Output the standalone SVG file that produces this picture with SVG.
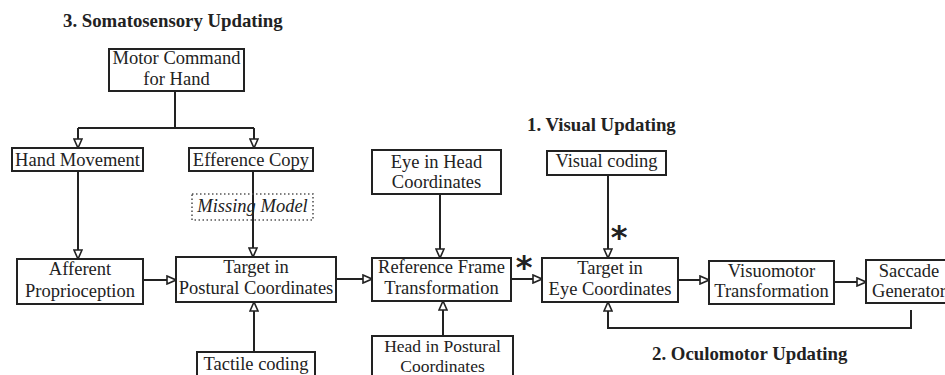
<svg xmlns="http://www.w3.org/2000/svg" width="945" height="375" viewBox="0 0 945 375">
<defs>
<marker id="tri" viewBox="0 0 10 10" refX="10" refY="5" markerWidth="10" markerHeight="10" markerUnits="userSpaceOnUse" orient="auto">
<path d="M1,1 L10,5 L1,9 z" fill="#fff" stroke="#222" stroke-width="1.6"/>
</marker>
<style>
.box{fill:#fff;stroke:#222;stroke-width:2}
.dot{fill:none;stroke:#555;stroke-width:1.6;stroke-dasharray:1.5 2.5}
.t{font-family:"Liberation Serif","Times New Roman",serif;font-size:18.5px;fill:#222;text-anchor:middle}
.s{font-size:17.5px}
.i{font-style:italic}
.h{font-family:"Liberation Serif","Times New Roman",serif;font-size:18.8px;font-weight:bold;fill:#222}
.c{fill:none;stroke:#222;stroke-width:2}
.a{marker-end:url(#tri)}
.star{font-family:"DejaVu Sans",sans-serif;font-size:32px;font-weight:bold;fill:#222;text-anchor:middle}
</style>
</defs>
<rect width="945" height="375" fill="#fff"/>
<text class="h" x="63" y="27">3. Somatosensory Updating</text>
<text class="h" x="527" y="131">1. Visual Updating</text>
<text class="h" x="652" y="360">2. Oculomotor Updating</text>
<g id="connectors">
<path class="c" d="M175,91 V128 M78,128 H254"/>
<path class="c a" d="M78,128 V148"/>
<path class="c a" d="M254,128 V148"/>
<path class="c a" d="M78,171 V259"/>
<path class="c a" d="M253,171 V257"/>
<path class="c a" d="M143,280 H176"/>
<path class="c a" d="M254,352 V302"/>
<path class="c a" d="M336,279 H372"/>
<path class="c a" d="M440,194 V258"/>
<path class="c a" d="M443,336 V301"/>
<path class="c a" d="M511,279 H542"/>
<path class="c a" d="M608,175 V258"/>
<path class="c a" d="M678,280 H709"/>
<path class="c a" d="M834,282 H866"/>
<path class="c a" d="M911,310 V328 H608 V302"/>
</g>
<g id="motor"><rect class="box" x="109" y="49" width="135" height="42"/><text class="t" x="176.5" y="64">Motor Command</text><text class="t" x="176.5" y="85">for Hand</text></g>
<g id="hand"><rect class="box" x="12" y="148" width="131" height="23"/><text class="t" x="77.5" y="166">Hand Movement</text></g>
<g id="efference"><rect class="box" x="189" y="148" width="124" height="23"/><text class="t" x="251" y="166">Efference Copy</text></g>
<g id="missing"><rect class="dot" x="192" y="194" width="121" height="26"/><text class="t i" x="252.5" y="212">Missing Model</text></g>
<g id="afferent"><rect class="box" x="17" y="259" width="126" height="45"/><text class="t" x="80" y="275">Afferent</text><text class="t" x="80" y="297">Proprioception</text></g>
<g id="targetPostural"><rect class="box" x="176" y="257" width="160" height="45"/><text class="t" x="256" y="273">Target in</text><text class="t" x="256" y="294">Postural Coordinates</text></g>
<g id="tactile"><rect class="box" x="197" y="352" width="118" height="26"/><text class="t" x="256" y="370">Tactile coding</text></g>
<g id="eyeHead"><rect class="box" x="372" y="150" width="129" height="44"/><text class="t" x="436.5" y="168">Eye in Head</text><text class="t" x="436.5" y="188">Coordinates</text></g>
<g id="refFrame"><rect class="box" x="372" y="258" width="139" height="43"/><text class="t" x="441.5" y="273">Reference Frame</text><text class="t" x="441.5" y="294">Transformation</text></g>
<g id="headPostural"><rect class="box" x="372" y="336" width="141" height="42"/><text class="t s" x="442.5" y="352">Head in Postural</text><text class="t s" x="442.5" y="372">Coordinates</text></g>
<g id="visual"><rect class="box" x="547" y="151" width="119" height="24"/><text class="t" x="606.5" y="167">Visual coding</text></g>
<g id="targetEye"><rect class="box" x="542" y="258" width="136" height="44"/><text class="t" x="610" y="274">Target in</text><text class="t" x="610" y="295">Eye Coordinates</text></g>
<g id="visuomotor"><rect class="box" x="709" y="261" width="125" height="43"/><text class="t" x="771.5" y="277">Visuomotor</text><text class="t" x="771.5" y="297">Transformation</text></g>
<g id="saccade"><rect class="box" x="866" y="260" width="86" height="43"/><text class="t" x="909" y="277">Saccade</text><text class="t" x="909" y="297">Generator</text></g>
<text class="star" x="524" y="278">*</text>
<text class="star" x="619" y="248">*</text>
</svg>
